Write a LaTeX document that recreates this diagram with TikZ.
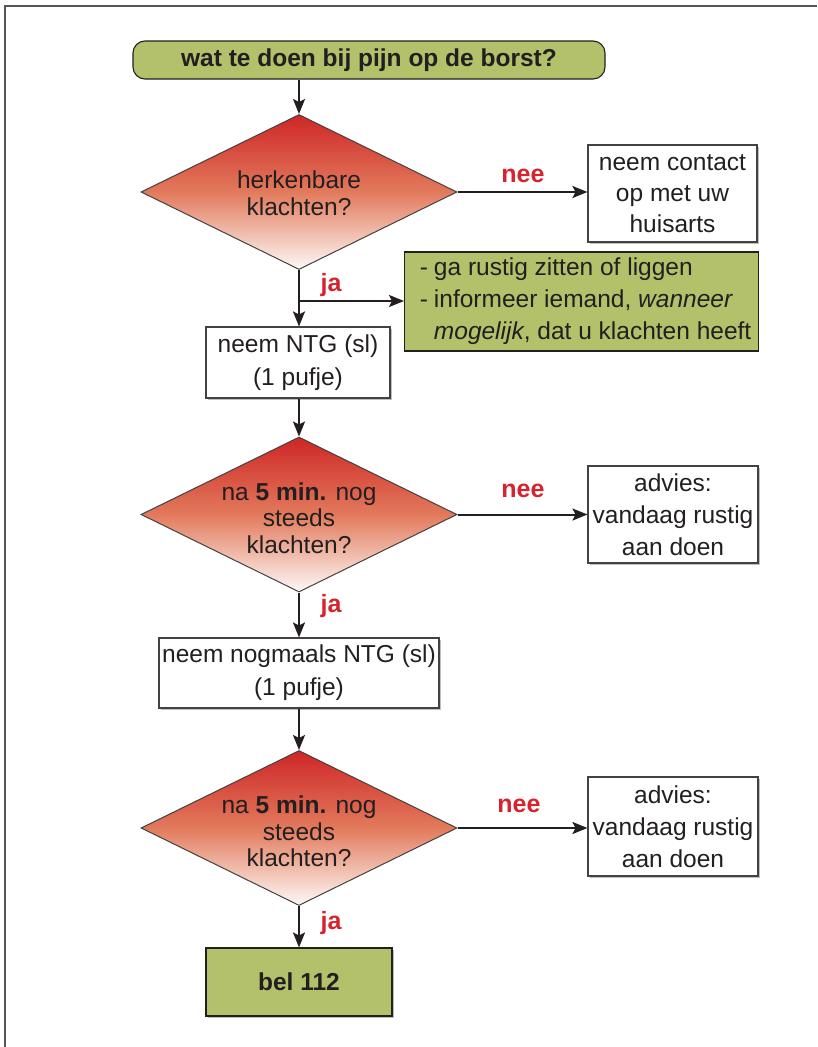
\documentclass[tikz,border=0pt]{standalone}
\usepackage{fontspec}
\setmainfont{Liberation Sans}
\usetikzlibrary{shapes.geometric,arrows.meta,shadows}
\definecolor{olive}{RGB}{179,193,106}
\definecolor{txt}{RGB}{35,31,32}
\definecolor{lbl}{RGB}{215,35,45}
\definecolor{dtop}{RGB}{206,38,38}
\definecolor{dmid}{RGB}{226,122,92}
\definecolor{dbot}{RGB}{253,248,245}
\definecolor{frame}{RGB}{85,85,85}
\tikzset{
  base/.style={font=\fontsize{24.5}{32}\selectfont, text=txt, align=center, inner sep=0pt},
  whitebox/.style={base, rectangle, draw=txt!85, line width=1.1pt, fill=white,
    drop shadow={shadow xshift=1.5pt, shadow yshift=-1.5pt, fill=black!25, opacity=1}},
  greenbox/.style={base, rectangle, draw=txt, line width=1.1pt, fill=olive},
  decision/.style={diamond, draw=txt!85, line width=1pt, aspect=2.05, inner sep=0pt,
    top color=dtop, bottom color=dbot, middle color=dmid, minimum width=316pt, minimum height=155pt},
  dtext/.style={base, font=\fontsize{24.5}{26.5}\selectfont},
  arr/.style={line width=2pt, draw=txt, -{Stealth[length=15pt, width=12pt, inset=3pt]}},
  lab/.style={font=\fontsize{25}{28}\selectfont\bfseries, text=lbl, inner sep=0pt}
}
\begin{document}
\begin{tikzpicture}[x=1pt, y=-1pt]
\useasboundingbox (0,0) rectangle (817,1047);
\fill[white] (0,0) rectangle (817,1047);
\draw[frame, line width=2pt] (5,1047) -- (5,6) -- (817,6);

% title
\node[greenbox, rounded corners=12pt, minimum width=472pt, minimum height=38pt,
  font=\fontsize{24.5}{28}\selectfont\bfseries] (title) at (369,60) {wat te doen bij pijn op de borst?};

% decision 1
\node[decision] (d1) at (299,192) {};
\node[dtext] (t1) at (299,193) {herkenbare\\klachten?};
\node[whitebox, minimum width=169pt, minimum height=97pt, font=\fontsize{24.5}{31}\selectfont] (b1) at (672.5,193.5) {neem contact\\op met uw\\huisarts};
\node[greenbox, minimum width=354pt, minimum height=99pt, anchor=west] (g1) at (404,301.5)
  {\begin{tabular}{@{\hspace{8pt}}l@{\hspace{6pt}}l@{}}
  - & ga rustig zitten of liggen\\
  - & informeer iemand, \textit{wanneer}\\
    & \textit{mogelijk}, dat u klachten heeft
  \end{tabular}};
\node[whitebox, minimum width=184pt, minimum height=71pt, font=\fontsize{24.5}{33}\selectfont] (n1) at (298,362.5) {neem NTG (sl)\\(1 pufje)};

% decision 2
\node[decision] (d2) at (299,514.5) {};
\node[dtext] (t2) at (299,518) {na \textbf{5 min.} nog\\steeds\\klachten?};
\node[whitebox, minimum width=170pt, minimum height=97pt] (b2) at (673,514.5) {advies:\\vandaag rustig\\aan doen};
\node[whitebox, minimum width=280pt, minimum height=70pt, font=\fontsize{24.5}{33}\selectfont] (n2) at (299,673) {neem nogmaals NTG (sl)\\(1 pufje)};

% decision 3
\node[decision] (d3) at (299,828) {};
\node[dtext] (t3) at (299,831.5) {na \textbf{5 min.} nog\\steeds\\klachten?};
\node[whitebox, minimum width=170pt, minimum height=99pt] (b3) at (673,826.5) {advies:\\vandaag rustig\\aan doen};
\node[greenbox, minimum width=186pt, minimum height=68pt, font=\fontsize{24.5}{28}\selectfont\bfseries,
  drop shadow={shadow xshift=1.5pt, shadow yshift=-1.5pt, fill=black!25, opacity=1}] (bel) at (299,982) {bel 112};

% connectors
\draw[arr] (title.south -| d1.north) -- (d1.north);
\draw[arr] (d1.east) -- (b1.west |- d1.east);
\node[lab] (nee1) at (523,176) {nee};
\draw[arr] (d1.south) -- (n1.north -| d1.south);
\coordinate (split) at (299,301);
\draw[arr] (split) -- (g1.west |- split);
\node[lab] (ja1) at (331,285) {ja};
\draw[arr] (n1.south -| d2.north) -- (d2.north);
\draw[arr] (d2.east) -- (b2.west |- d2.east);
\node[lab] (nee2) at (523,491) {nee};
\draw[arr] (d2.south) -- (n2.north);
\node[lab] (ja2) at (331,606) {ja};
\draw[arr] (n2.south) -- (d3.north);
\draw[arr] (d3.east) -- (b3.west |- d3.east);
\node[lab] (nee3) at (519,806) {nee};
\draw[arr] (d3.south) -- (bel.north);
\node[lab] (ja3) at (331,923) {ja};
\end{tikzpicture}
\end{document}
